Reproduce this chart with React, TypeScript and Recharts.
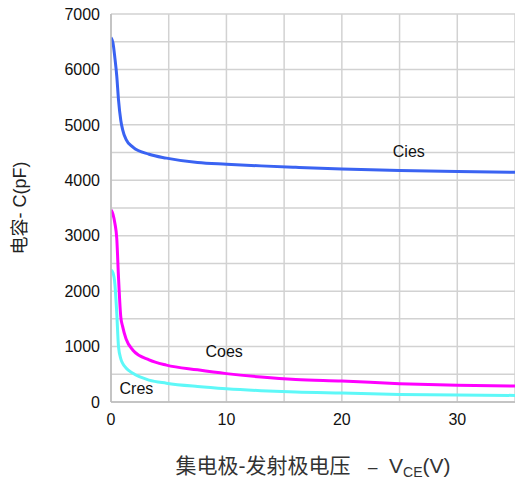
import React from 'react';
import { LineChart, Line, XAxis, YAxis, CartesianGrid, ReferenceDot, Label } from 'recharts';

// collector-emitter voltage (V) sample points
const vce = [0, 0.17, 0.34, 0.5, 0.65, 0.85, 1.0, 1.3, 1.9, 3.3, 4.8, 7.5, 10, 13, 16, 20, 25, 30, 35];

// capacitance values (pF)
const cies = [6575, 6480, 6200, 5880, 5450, 5080, 4920, 4740, 4600, 4470, 4400, 4320, 4290, 4260, 4235, 4205, 4175, 4157, 4145];
const coes = [3465, 3390, 3220, 2950, 2250, 1530, 1370, 1140, 935, 760, 665, 580, 512, 450, 405, 378, 330, 300, 288];
const cres = [2380, 2330, 2120, 1600, 1000, 780, 700, 615, 517, 395, 340, 280, 240, 205, 180, 161, 137, 125, 119];

const yTicks = [0, 1000, 2000, 3000, 4000, 5000, 6000, 7000];
const xTicks = [0, 10, 20, 30];
const yGrid = [0, 500, 1000, 1500, 2000, 2500, 3000, 3500, 4000, 4500, 5000, 5500, 6000, 6500, 7000];
const xGrid = [0, 5, 10, 15, 20, 25, 30, 35];

// curve name labels: [name, vce, pF]
const curveLabels: [string, number, number][] = [
  ['Cies', 25.8, 4530],
  ['Coes', 9.8, 915],
  ['Cres', 2.2, 245],
];

const toSeries = (vals: number[]) => vce.map((v, i) => ({ v, c: vals[i] }));

const SANS = 'Arial, "Liberation Sans", sans-serif';
const CJK = 'Arial, "Liberation Sans", "Noto Sans CJK SC", sans-serif';

const YTitle = (props: any) => {
  const vb = props.viewBox || {};
  const cy = (vb.y ?? 14) + (vb.height ?? 388) / 2;
  return (
    <text x={20} y={cy} transform={`rotate(-90, 20, ${cy})`} textAnchor="middle" dominantBaseline="central"
      fontSize={18} fontFamily={CJK} fill="#222">
      电容- C(pF)
    </text>
  );
};

const XTitle = (props: any) => {
  const vb = props.viewBox || {};
  const cx = (vb.x ?? 111) + (vb.width ?? 404) / 2;
  return (
    <text x={cx} y={473} textAnchor="middle" fontSize={21} fontFamily={CJK} fill="#333" xmlSpace="preserve">
      集电极-发射极电压{'   '}<tspan fontSize={17}>&#8211;</tspan>{'  '}V<tspan fontSize={14} dy={4}>CE</tspan><tspan dy={-4}>(V)</tspan>
    </text>
  );
};

export default function App() {
  return (
    <div style={{ position: 'absolute', left: 0, top: 0, width: 515, height: 479, background: '#fff' }}>
      <LineChart width={515} height={479} margin={{ top: 14, right: 0, left: 31, bottom: 47 }}>
        <CartesianGrid stroke="#d2d2d2" strokeWidth={1.5} horizontalValues={yGrid} verticalValues={xGrid} />
        <XAxis
          dataKey="v"
          type="number"
          domain={[0, 35]}
          ticks={xTicks}
          allowDataOverflow
          axisLine={{ stroke: '#bbbbbb', strokeWidth: 1.5 }}
          tickLine={false}
          tickSize={0}
          tickMargin={12}
          height={30}
          tick={{ fontSize: 16, fontFamily: SANS, fill: '#111' }}
        >
          <Label content={<XTitle />} />
        </XAxis>
        <YAxis
          type="number"
          domain={[0, 7000]}
          ticks={yTicks}
          axisLine={{ stroke: '#bbbbbb', strokeWidth: 1.5 }}
          tickLine={false}
          tickSize={0}
          tickMargin={11}
          width={80}
          tick={{ fontSize: 16, fontFamily: SANS, fill: '#111' }}
        >
          <Label content={<YTitle />} />
        </YAxis>
        <Line data={toSeries(cies)} dataKey="c" type="monotone" stroke="#3a63f2" strokeWidth={3} dot={false} isAnimationActive={false} />
        <Line data={toSeries(coes)} dataKey="c" type="monotone" stroke="#ff00ff" strokeWidth={3} dot={false} isAnimationActive={false} />
        <Line data={toSeries(cres)} dataKey="c" type="monotone" stroke="#5ef8f8" strokeWidth={3} dot={false} isAnimationActive={false} />
        {curveLabels.map(([name, x, y]) => (
          <ReferenceDot key={name} x={x} y={y} r={0} fill="none" stroke="none"
            label={{ value: name, position: 'center', fontSize: 16, fontFamily: SANS, fill: '#111' }} />
        ))}
      </LineChart>
    </div>
  );
}
